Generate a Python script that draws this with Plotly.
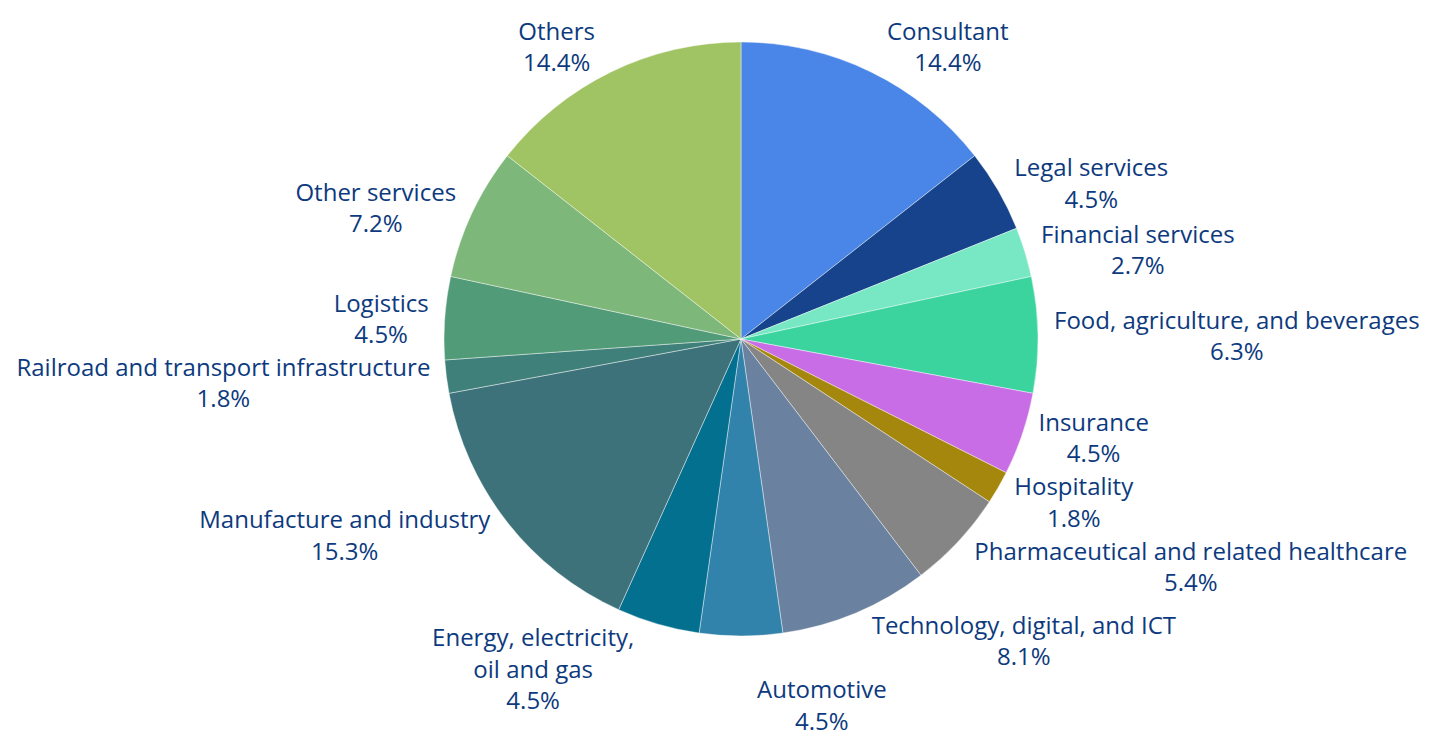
import plotly.graph_objects as go

categories = [
    "Consultant", "Legal services", "Financial services",
    "Food, agriculture, and beverages", "Insurance", "Hospitality",
    "Pharmaceutical and related healthcare", "Technology, digital, and ICT",
    "Automotive", "Energy, electricity,<br>oil and gas", "Manufacture and industry",
    "Railroad and transport infrastructure", "Logistics", "Other services", "Others",
]
shares = [14.4, 4.5, 2.7, 6.3, 4.5, 1.8, 5.4, 8.1, 4.5, 4.5, 15.3, 1.8, 4.5, 7.2, 14.4]
colors = [
    "#4a86e8", "#16438b", "#78e7c4", "#3bd49f", "#c96de6", "#a6870d",
    "#858585", "#6a829f", "#3283ab", "#03708f", "#3d727a", "#40807a",
    "#529b78", "#7db77a", "#a0c463",
]

fig = go.Figure(go.Pie(
    labels=categories,
    values=shares,
    sort=False,
    direction="clockwise",
    rotation=0,
    automargin=False,
    marker=dict(colors=colors, line=dict(color="rgba(255,255,255,0.6)", width=0.7)),
    textposition="outside",
    texttemplate="%{label}<br>%{value:.1f}%",
    outsidetextfont=dict(color="#0d3a7e", size=24, family="Open Sans", weight=500),
    showlegend=False,
    hoverinfo="label+percent",
))

fig.update_layout(
    width=1455, height=738,
    margin=dict(l=27, r=0, t=42, b=102, autoexpand=False),
    paper_bgcolor="white",
    font=dict(family="Open Sans", color="#0d3a7e", size=24),
)

hide_lines = """
var s = document.createElement('style');
s.innerHTML = 'path.textline{display:none !important;}';
document.head.appendChild(s);
"""

fig.write_html("out.html", post_script=hide_lines)
